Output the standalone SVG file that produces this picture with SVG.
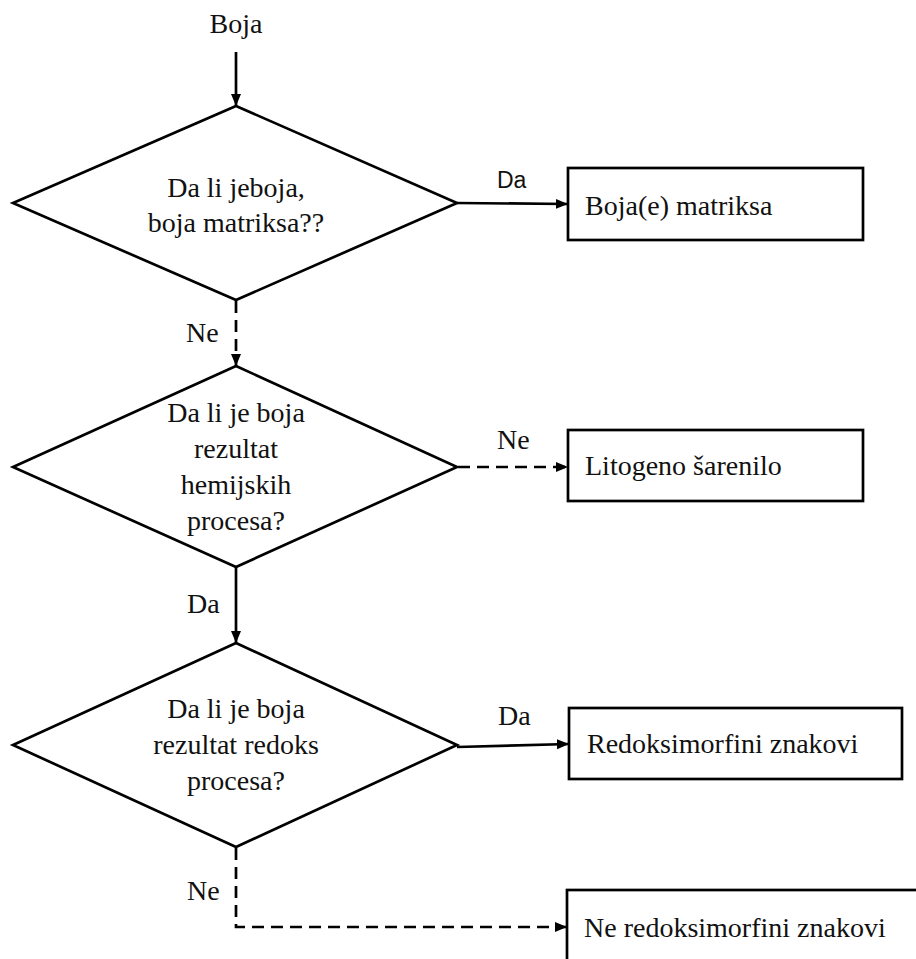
<svg xmlns="http://www.w3.org/2000/svg" width="916" height="959" viewBox="0 0 916 959">
<style>
.shape{fill:#fff;stroke:#000;stroke-width:2.7}
.t{font-family:"Liberation Serif","Times New Roman",serif;font-size:28px;fill:#111}
.c{text-anchor:middle}
.s{font-family:"Liberation Sans",Arial,sans-serif;font-size:23px;fill:#111}
.ln{fill:none;stroke:#000;stroke-width:2.7}
.d{stroke-dasharray:12 7}
</style>
<defs>
<marker id="ah" markerUnits="userSpaceOnUse" markerWidth="12" markerHeight="12" viewBox="0 0 12 12" refX="12" refY="6" orient="auto">
<path d="M0,1 L12,6 L0,11 Z" fill="#000"/>
</marker>
</defs>
<g id="start"><text class="t c" x="236" y="33">Boja</text></g>
<g id="d1">
<polygon class="shape" points="236,106 457,203 236,300 13,203"/>
<text class="t c" x="236" y="197">Da li jeboja,</text>
<text class="t c" x="236" y="232">boja matriksa??</text>
</g>
<g id="b1">
<rect class="shape" x="568" y="168" width="295" height="72"/>
<text class="t" x="585" y="215">Boja(e) matriksa</text>
</g>
<g id="d2">
<polygon class="shape" points="236,366 457,467 236,567 13,467"/>
<text class="t c" x="236" y="422">Da li je boja</text>
<text class="t c" x="236" y="458">rezultat</text>
<text class="t c" x="236" y="494">hemijskih</text>
<text class="t c" x="236" y="530">procesa?</text>
</g>
<g id="b2">
<rect class="shape" x="568" y="430" width="295" height="71"/>
<text class="t" x="585" y="475">Litogeno šarenilo</text>
</g>
<g id="d3">
<polygon class="shape" points="236,643 457,745 236,847 13,745"/>
<text class="t c" x="236" y="718">Da li je boja</text>
<text class="t c" x="236" y="754">rezultat redoks</text>
<text class="t c" x="236" y="790">procesa?</text>
</g>
<g id="b3">
<rect class="shape" x="569" y="708" width="333" height="71"/>
<text class="t" x="587" y="753">Redoksimorfini znakovi</text>
</g>
<g id="b4">
<rect class="shape" x="567" y="890" width="400" height="100"/>
<text class="t" x="584" y="937">Ne redoksimorfini znakovi</text>
</g>
<g id="connectors">
<line class="ln" x1="236" y1="52" x2="236" y2="106" marker-end="url(#ah)"/>
<line class="ln" x1="457" y1="203" x2="568" y2="204" marker-end="url(#ah)"/>
<text class="s" x="497" y="188">Da</text>
<line class="ln d" x1="236" y1="301" x2="236" y2="366" marker-end="url(#ah)"/>
<text class="t" x="186" y="342">Ne</text>
<line class="ln d" x1="458" y1="467" x2="568" y2="467" marker-end="url(#ah)"/>
<text class="t" x="497" y="449">Ne</text>
<line class="ln" x1="236" y1="567" x2="236" y2="643" marker-end="url(#ah)"/>
<text class="t" x="187" y="613">Da</text>
<line class="ln" x1="457" y1="747" x2="569" y2="744" marker-end="url(#ah)"/>
<text class="t" x="498" y="725">Da</text>
<polyline class="ln d" points="236,848 236,927 567,927" marker-end="url(#ah)"/>
<text class="t" x="187" y="900">Ne</text>
</g>
</svg>
